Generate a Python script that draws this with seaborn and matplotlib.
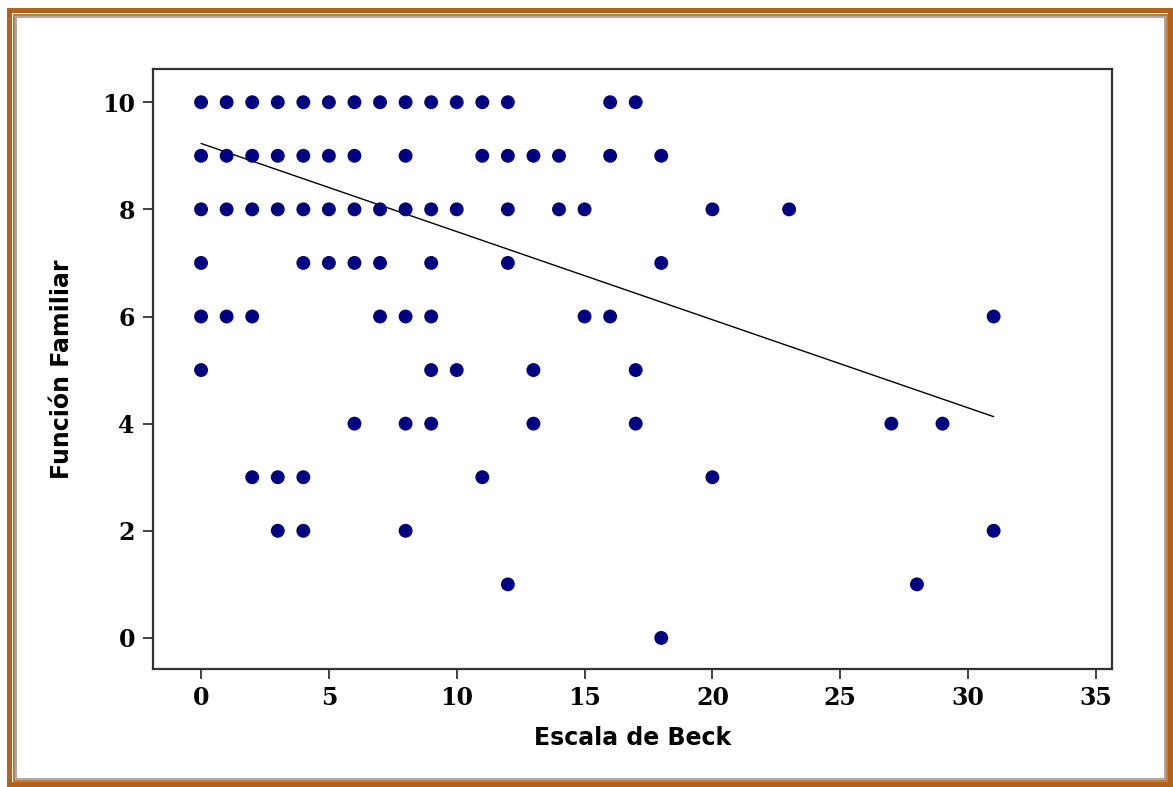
import matplotlib
matplotlib.use('Agg')
import matplotlib.pyplot as plt
import seaborn as sns
import numpy as np
import pandas as pd
from matplotlib.patches import Rectangle

# Escala de Beck values observed at each level of Función Familiar
beck_at_10 = [0, 1, 2, 3, 4, 5, 6, 7, 8, 9, 10, 11, 12, 16, 17]
beck_at_9 = [0, 1, 2, 3, 4, 5, 6, 8, 11, 12, 13, 14, 16, 18]
beck_at_8 = [0, 1, 2, 3, 4, 5, 6, 7, 8, 9, 10, 12, 14, 15, 20, 23]
beck_at_7 = [0, 4, 5, 6, 7, 9, 12, 18]
beck_at_6 = [0, 1, 2, 7, 8, 9, 15, 16, 31]
beck_at_5 = [0, 9, 10, 13, 17]
beck_at_4 = [6, 8, 9, 13, 17, 27, 29]
beck_at_3 = [2, 3, 4, 11, 20]
beck_at_2 = [3, 4, 8, 31]
beck_at_1 = [12, 28]
beck_at_0 = [18]

# Fitted regression line (fit on the full sample incl. overlapping points)
fit_intercept = 9.23
fit_slope = -0.1645

levels = {10: beck_at_10, 9: beck_at_9, 8: beck_at_8, 7: beck_at_7, 6: beck_at_6,
          5: beck_at_5, 4: beck_at_4, 3: beck_at_3, 2: beck_at_2, 1: beck_at_1, 0: beck_at_0}

x_ticks = [0, 5, 10, 15, 20, 25, 30, 35]
y_ticks = [0, 2, 4, 6, 8, 10]

rows = []
for fam, xs in levels.items():
    for b in xs:
        rows.append((b, fam))
df = pd.DataFrame(rows, columns=['beck', 'familiar'])

fit_x = np.array([df['beck'].min(), df['beck'].max()], dtype=float)
fit_df = pd.DataFrame({'beck': fit_x, 'familiar': fit_intercept + fit_slope * fit_x})

sns.set_style('white')
W, H = 1173, 787
fig = plt.figure(figsize=(W / 100, H / 100), dpi=100)
fig.patch.set_facecolor('white')

def rect_px(x0, y0, x1, y1, **kw):
    # pixel coords with top-left origin
    return Rectangle((x0 / W, 1 - y1 / H), (x1 - x0) / W, (y1 - y0) / H,
                     transform=fig.transFigure, zorder=-5, **kw)

brown = '#B2621A'
fig.patches.append(rect_px(7, 8, 1173, 787, facecolor=brown, edgecolor='none'))
fig.patches.append(rect_px(12, 13, 1168, 782, facecolor='white', edgecolor='none'))
fig.patches.append(rect_px(13.5, 14.5, 1166.5, 780.5, facecolor='none', edgecolor=brown, lw=1.2))
fig.patches.append(rect_px(15.5, 16.5, 1164.5, 778.5, facecolor='none', edgecolor='#9a9a9a', lw=1.2))

ax = fig.add_axes([153 / W, 1 - 669 / H, (1112 - 153) / W, (669 - 69) / H])
ax.set_facecolor('white')
ax.set_zorder(2)

sns.lineplot(data=fit_df, x='beck', y='familiar', color='black', lw=1.0, ax=ax)
sns.scatterplot(data=df, x='beck', y='familiar', color='#000080', s=100,
                edgecolor='none', ax=ax, zorder=3)

ax.set_xlim(-1.88, 35.63)
ax.set_ylim(-0.58, 10.62)
ax.set_xticks(x_ticks)
ax.set_yticks(y_ticks)
ax.set_xticklabels([str(t) for t in x_ticks], family='DejaVu Serif', fontweight='bold', fontsize=17)
ax.set_yticklabels([str(t) for t in y_ticks], family='DejaVu Serif', fontweight='bold', fontsize=17)
ax.tick_params(axis='both', direction='out', length=7, width=1.3, color='#333333',
               labelcolor='black', bottom=True, left=True)
ax.tick_params(axis='x', pad=5)
ax.tick_params(axis='y', pad=6)
for s in ax.spines.values():
    s.set_color('#333333')
    s.set_linewidth(1.6)

ax.set_xlabel('Escala de Beck', family='DejaVu Sans', fontweight='bold', fontsize=17,
              labelpad=12, color='black')
ax.set_ylabel('Función Familiar', family='DejaVu Sans', fontweight='bold', fontsize=17,
              labelpad=20, color='black')

fig.savefig('out.png', dpi=100, facecolor='white')
